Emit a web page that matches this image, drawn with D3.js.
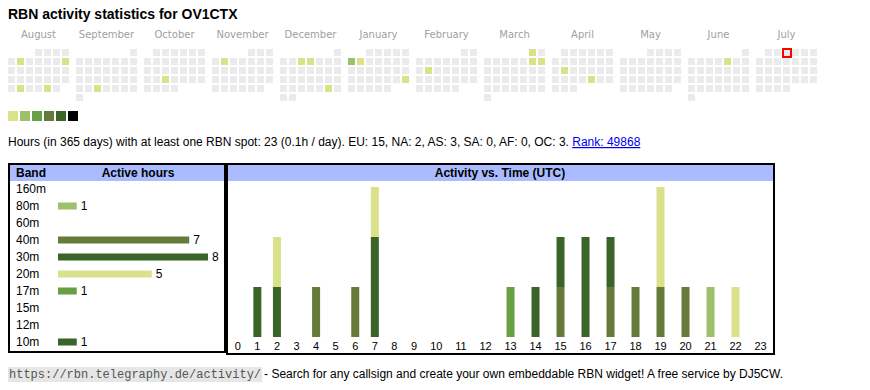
<!DOCTYPE html>
<html>
<head>
<meta charset="utf-8">
<script src="https://cdn.jsdelivr.net/npm/d3@7"></script>
<style>
  body { margin: 0; background: #fff; }
  svg { display: block; font-family: "Liberation Sans", Arial, sans-serif; }
</style>
</head>
<body>
<script>
// DONNEES
const indicatif = "OV1CTX";
const aujourdhui = "2025-07-03";
const joursActifs = ["2024-08-06", "2024-08-11", "2024-08-27", "2024-08-30", "2024-09-25", "2024-10-23",
  "2024-11-05", "2024-12-04", "2024-12-05", "2024-12-28", "2025-01-06", "2025-01-07", "2025-01-26",
  "2025-02-11", "2025-03-01", "2025-03-08", "2025-03-09", "2025-04-15", "2025-04-25", "2025-06-06"];
const niveaux = [1, 1, 1, 1, 1, 1, 1, 1, 1, 1, 2, 1, 1, 1, 1, 1, 1, 1, 1, 1];
const couleursNiveau = ["#d9e28a", "#9dc06a", "#689f45", "#657a3b", "#3b6428", "#000000"];

const totalHeures = 23;
const continents = ["EU", "NA", "AS", "SA", "AF", "OC"];
const heuresContinent = [15, 2, 3, 0, 0, 3];
const rang = 49868;

const bandes = ["160m", "80m", "60m", "40m", "30m", "20m", "17m", "15m", "12m", "10m"];
const heuresBande = [0, 1, 0, 7, 8, 5, 1, 0, 0, 1];
const couleursBande = ["#000000", "#9dc06a", "#8b6b3a", "#657a3b", "#3b6428", "#d9e28a", "#689f45", "#b08c4a", "#7aa0c4", "#3b6428"];

const heures = d3.range(24);
const h160m = [0,0,0,0,0,0,0,0,0,0,0,0,0,0,0,0,0,0,0,0,0,0,0,0];
const h80m  = [0,0,0,0,0,0,0,0,0,0,0,0,0,0,0,0,0,0,0,0,0,1,0,0];
const h60m  = [0,0,0,0,0,0,0,0,0,0,0,0,0,0,0,0,0,0,0,0,0,0,0,0];
const h40m  = [0,0,0,0,1,0,1,0,0,0,0,0,0,0,0,1,0,1,1,1,1,0,0,0];
const h30m  = [0,1,1,0,0,0,0,2,0,0,0,0,0,0,1,1,1,1,0,0,0,0,0,0];
const h20m  = [0,0,1,0,0,0,0,1,0,0,0,0,0,0,0,0,0,0,0,2,0,0,1,0];
const h17m  = [0,0,0,0,0,0,0,0,0,0,0,0,0,1,0,0,0,0,0,0,0,0,0,0];
const h15m  = [0,0,0,0,0,0,0,0,0,0,0,0,0,0,0,0,0,0,0,0,0,0,0,0];
const h12m  = [0,0,0,0,0,0,0,0,0,0,0,0,0,0,0,0,0,0,0,0,0,0,0,0];
const h10m  = [0,0,0,0,0,0,0,0,0,0,0,0,0,0,0,0,1,0,0,0,0,0,0,0];
const parBande = [h160m, h80m, h60m, h40m, h30m, h20m, h17m, h15m, h12m, h10m];

// CADRE
const largeur = 870;
const hauteur = 390;

const svg = d3.select("body")
  .append("svg")
  .attr("width", largeur)
  .attr("height", hauteur);

svg.append("text")
  .attr("x", 8)
  .attr("y", 19)
  .style("font-size", "14px")
  .style("font-weight", "bold")
  .text("RBN activity statistics for " + indicatif);

// Calendrier _____________________________________________
const parse = d3.timeParse("%Y-%m-%d");
const niveauJour = new Map(joursActifs.map((d, i) => [d, niveaux[i]]));
const fmt = d3.timeFormat("%Y-%m-%d");

const mois = d3.timeMonths(new Date(2024, 7, 1), new Date(2025, 7, 1));
const xMois = d3.scaleBand().domain(mois).range([8, 8 + 68 * mois.length]);
const pas = 9, cote = 7;

const cal = svg.append("g");

cal.selectAll(".mois")
  .data(mois)
  .join("text")
  .attr("class", "mois")
  .attr("x", m => xMois(m) + 30.5)
  .attr("y", 38)
  .attr("text-anchor", "middle")
  .style("font-family", "'DejaVu Sans', sans-serif")
  .style("font-size", "10px")
  .style("fill", "#a0a0a0")
  .text(d3.timeFormat("%B"));

const jours = mois.flatMap(m => d3.timeDays(m, d3.timeMonth.offset(m, 1)).map(d => ({ m, d })));

cal.selectAll(".jour")
  .data(jours)
  .join("rect")
  .attr("class", "jour")
  .attr("x", j => xMois(j.m) + ((j.d.getDay() + 6) % 7) * pas)
  .attr("y", j => 49 + d3.timeMonday.count(j.m, j.d) * pas)
  .attr("width", cote)
  .attr("height", cote)
  .attr("fill", j => niveauJour.has(fmt(j.d)) ? couleursNiveau[niveauJour.get(fmt(j.d)) - 1] : "#ebebeb");

// case du jour
const jAuj = parse(aujourdhui);
const mAuj = d3.timeMonth.floor(jAuj);
cal.append("rect")
  .attr("x", xMois(mAuj) + ((jAuj.getDay() + 6) % 7) * pas)
  .attr("y", 49 + d3.timeMonday.count(mAuj, jAuj) * pas)
  .attr("width", cote + 1)
  .attr("height", cote + 1)
  .attr("fill", "none")
  .attr("stroke", "#ff0000")
  .attr("stroke-width", 1.5)
  .style("shape-rendering", "crispEdges");

// legende
svg.selectAll(".leg")
  .data(couleursNiveau)
  .join("rect")
  .attr("class", "leg")
  .attr("x", (c, i) => 8 + i * 12)
  .attr("y", 111)
  .attr("width", 10)
  .attr("height", 10)
  .attr("fill", c => c);

// Resume
const resume = svg.append("text")
  .attr("x", 8)
  .attr("y", 146)
  .style("font-size", "12px");
resume.append("tspan")
  .text("Hours (in 365 days) with at least one RBN spot: " + totalHeures + " (" + (totalHeures / 365).toFixed(1) + "h / day). "
    + continents.map((c, i) => c + ": " + heuresContinent[i]).join(", ") + ". ");
resume.append("tspan")
  .style("fill", "#0000ee")
  .style("text-decoration", "underline")
  .text("Rank: " + rang);

// Tableau des bandes ______________________________________
function boite(x, y, w, h) {
  svg.append("rect")
    .attr("x", x + 1).attr("y", y + 2)
    .attr("width", w - 2).attr("height", 16)
    .attr("fill", "#aabbff");
  svg.append("rect")
    .attr("x", x + 1).attr("y", y + 1)
    .attr("width", w - 2).attr("height", h - 2)
    .attr("fill", "none")
    .attr("stroke", "#000")
    .attr("stroke-width", 2);
}
boite(8, 163, 218, 190);
boite(226, 163, 549, 192);

svg.append("text").attr("x", 16).attr("y", 177)
  .style("font-size", "12px").style("font-weight", "bold").text("Band");
svg.append("text").attr("x", 138).attr("y", 177).attr("text-anchor", "middle")
  .style("font-size", "12px").style("font-weight", "bold").text("Active hours");

const yBande = d3.scalePoint().domain(bandes).range([189, 342]);
const lBande = d3.scaleLinear().domain([0, d3.max(heuresBande)]).range([0, 150]);

svg.selectAll(".nomBande")
  .data(bandes)
  .join("text")
  .attr("class", "nomBande")
  .attr("x", 16)
  .attr("y", b => yBande(b))
  .attr("dy", "0.36em")
  .style("font-size", "12px")
  .text(b => b);

const actives = bandes.map((b, i) => ({ b, n: heuresBande[i], c: couleursBande[i] })).filter(d => d.n > 0);

svg.selectAll(".barreBande")
  .data(actives)
  .join("rect")
  .attr("class", "barreBande")
  .attr("x", 58)
  .attr("y", d => yBande(d.b) - 3.5)
  .attr("width", d => lBande(d.n))
  .attr("height", 7)
  .attr("fill", d => d.c);

svg.selectAll(".valBande")
  .data(actives)
  .join("text")
  .attr("class", "valBande")
  .attr("x", d => 58 + lBande(d.n) + 4)
  .attr("y", d => yBande(d.b))
  .attr("dy", "0.36em")
  .style("font-size", "12px")
  .text(d => d.n);

// Activite vs heure ________________________________________
svg.append("text").attr("x", 500).attr("y", 177).attr("text-anchor", "middle")
  .style("font-size", "12px").style("font-weight", "bold").text("Activity vs. Time (UTC)");

// largeur des colonnes comme un tableau html
const tmp = svg.append("text").style("font-size", "11px");
const largCol = heures.map(h => tmp.text(h).node().getComputedTextLength() + 16);
tmp.remove();
const k = (773 - 228) / d3.sum(largCol);
let acc = 228;
const centres = largCol.map(w => { const c = acc + w * k / 2; acc += w * k; return c; });
const xHeure = d3.scaleOrdinal().domain(heures).range(centres);

const lignes = heures.map(h => {
  const o = { h };
  bandes.forEach((b, i) => o[b] = parBande[i][h]);
  return o;
});
const pile = d3.stack().keys(bandes)(lignes);
const yHeure = d3.scaleLinear()
  .domain([0, d3.max(lignes, l => d3.sum(bandes, b => l[b]))])
  .range([337, 187]);

svg.append("g")
  .selectAll("g")
  .data(pile)
  .join("g")
  .attr("fill", s => couleursBande[bandes.indexOf(s.key)])
  .selectAll("rect")
  .data(s => s.filter(p => p[1] > p[0]))
  .join("rect")
  .attr("x", p => xHeure(p.data.h) - 4)
  .attr("y", p => yHeure(p[1]))
  .attr("width", 8)
  .attr("height", p => yHeure(p[0]) - yHeure(p[1]));

svg.selectAll(".heure")
  .data(heures)
  .join("text")
  .attr("class", "heure")
  .attr("x", h => xHeure(h))
  .attr("y", 350)
  .attr("text-anchor", "middle")
  .style("font-size", "11px")
  .text(h => h);

// Pied de page
const url = svg.append("text")
  .attr("x", 9)
  .attr("y", 378)
  .style("font-family", "'Liberation Mono', monospace")
  .style("font-size", "12px")
  .style("fill", "#555")
  .text("https://rbn.telegraphy.de/activity/");
const lu = url.node().getComputedTextLength();
svg.insert("rect", "text:last-child")
  .attr("x", 8).attr("y", 367)
  .attr("width", lu + 2).attr("height", 15)
  .attr("fill", "#e6e6e6");
svg.append("text")
  .attr("x", 8 + lu + 4)
  .attr("y", 378)
  .style("font-size", "12px")
  .text("- Search for any callsign and create your own embeddable RBN widget! A free service by DJ5CW.");
</script>
</body>
</html>
